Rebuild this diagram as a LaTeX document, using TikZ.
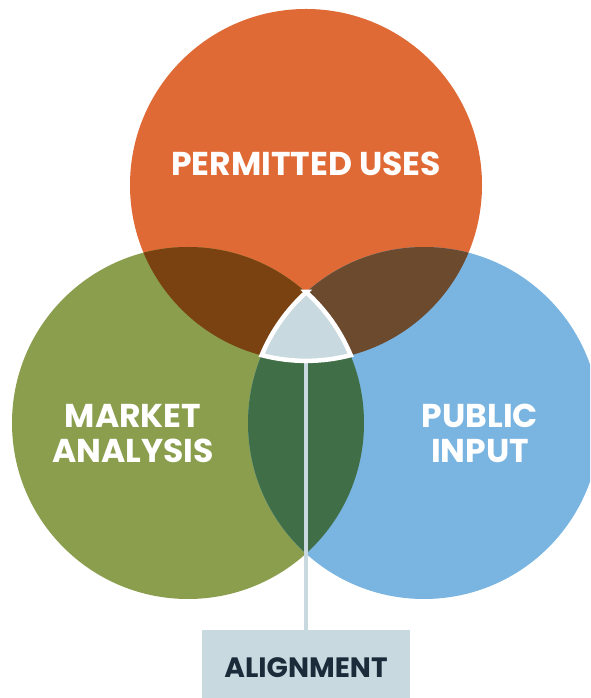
\documentclass[tikz,border=0pt]{standalone}
\usepackage{fontspec}
\setmainfont{Poppins}
\definecolor{cOrange}{HTML}{E06A35}
\definecolor{cGreen}{HTML}{8A9E4E}
\definecolor{cBlue}{HTML}{7AB4E0}
\definecolor{cOG}{HTML}{7A4210}
\definecolor{cOB}{HTML}{6B4A2E}
\definecolor{cGB}{HTML}{406E46}
\definecolor{cCore}{HTML}{C8D9E0}
\definecolor{cNavy}{HTML}{1C2B3A}
\tikzset{
  label text/.style={text=white,font=\fontsize{33}{35}\selectfont\bfseries,align=center,inner sep=0pt},
  core line/.style={draw=cCore,line width=4.8pt},
}
\begin{document}
\begin{tikzpicture}[x=1pt,y=1pt]
\useasboundingbox (0,0) rectangle (590,698);
\clip (0,0) rectangle (590,698);
\def\r{176}
\coordinate (T) at (306,513);
\coordinate (L) at (188,275);
\coordinate (R) at (424,275);
% base circles
\fill[cOrange] (T) circle[radius=\r];
\fill[cGreen] (L) circle[radius=\r];
\fill[cBlue] (R) circle[radius=\r];
% pairwise overlaps
\begin{scope}\clip (T) circle[radius=\r]; \fill[cOG] (L) circle[radius=\r];\end{scope}
\begin{scope}\clip (T) circle[radius=\r]; \fill[cOB] (R) circle[radius=\r];\end{scope}
\begin{scope}\clip (L) circle[radius=\r]; \fill[cGB] (R) circle[radius=\r];\end{scope}
% connector and box
\node[fill=cCore,minimum width=208pt,minimum height=68pt,inner sep=0pt,anchor=south] (box) at (306,0) {};
\node[text=cNavy,font=\fontsize{28}{30}\selectfont\bfseries,inner sep=0pt] (align) at (306,30) {ALIGNMENT};
\coordinate (coreBottom) at (306,342);
\draw[core line] (coreBottom) -- (box.north);
% triple overlap
\coordinate (A) at (306,406);
\fill[cCore,draw=white,line width=4.5pt,line join=miter]
  (A) arc[start angle=48,end angle=22.6,radius=\r]
      arc[start angle=-75.35,end angle=-104.65,radius=\r]
      arc[start angle=157.4,end angle=132,radius=\r] -- cycle;
% labels
\node[label text] (perm) at (306,534) {PERMITTED USES};
\node[label text] (market) at (133,264.5) {MARKET\\ANALYSIS};
\node[label text] (public) at (480,264.5) {PUBLIC\\INPUT};
\end{tikzpicture}
\end{document}
